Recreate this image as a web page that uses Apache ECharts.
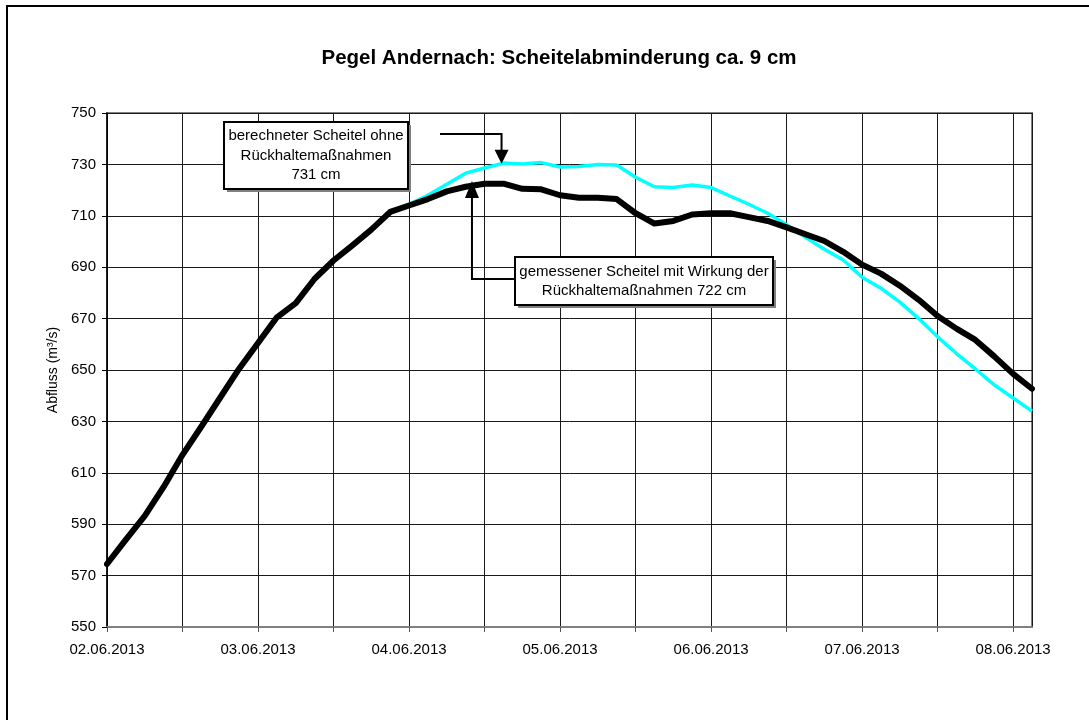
<!DOCTYPE html>
<html>
<head>
<meta charset="utf-8">
<script src="https://cdn.jsdelivr.net/npm/echarts@6/dist/echarts.min.js"></script>
<style>
html,body{margin:0;padding:0;background:#fff;}
#c{width:1089px;height:720px;}
</style>
</head>
<body>
<div id="c"></div>
<script>
// hours since 02.06.2013 00:00
const hours = [0,3,6,9,12,15,18,21,24,27,30,33,36,39,42,45,48,51,54,57,60,63,66,69,72,75,78,81,84,87,90,93,96,99,102,105,108,111,114,117,120,123,126,129,132,135,138,141,144,147];
// gemessen (mit Rückhaltemaßnahmen)
const measured = [574.5,584,593.2,604.5,617,628,639.3,650.5,660.5,670.5,676,685.5,692.6,698.5,704.6,711.5,714,716.5,719.5,721.3,722.5,722.5,720.5,720.3,718,717,717,716.5,711,707,708,710.5,711,711,709.5,708,705.5,702.8,700.2,696,691,687.5,682.8,677.3,671,666.1,661.7,655.3,648.5,642.7];
// berechnet (ohne Rückhaltemaßnahmen)
const calculated = [574.5,584,593.2,604.5,617,628,639.3,650.5,660.5,670.5,676,685.5,692.6,698.5,704.6,711.5,714.5,718,722.3,726.6,728.6,730.5,730.2,730.7,729,729.2,730,729.8,725,721.3,721,722,721,717.7,714.5,711,706.5,701.6,697,692.8,686.1,681.8,676.4,670,662.9,656.4,650.4,644.2,639.1,634];
const dayLabels = ['02.06.2013','03.06.2013','04.06.2013','05.06.2013','06.06.2013','07.06.2013','08.06.2013'];
const titleText = 'Pegel Andernach: Scheitelabminderung ca. 9 cm';
const yName = 'Abfluss (m³/s)';
const note1 = 'berechneter Scheitel ohne\nRückhaltemaßnahmen\n731 cm';
const note2 = 'gemessener Scheitel mit Wirkung der\nRückhaltemaßnahmen 722 cm';
const peakCalc = [62.7, 730.3];
const peakMeas = [58, 723.5];

const FONT = 'Liberation Sans, Arial, sans-serif';
const chart = echarts.init(document.getElementById('c'), null, {renderer:'canvas'});

chart.setOption({
  animation:false,
  backgroundColor:'#fff',
  title:{
    text:titleText, left:554, top:43, textAlign:'center',
    textStyle:{fontFamily:FONT, fontSize:20.5, fontWeight:'bold', color:'#000'}
  },
  grid:{left:107, top:113, width:925, height:514, show:true, borderColor:'#808080', borderWidth:2, backgroundColor:'transparent'},
  xAxis:{
    type:'value', min:0, max:147, interval:12,
    axisLine:{onZero:false, lineStyle:{color:'#808080', width:2}},
    axisTick:{show:true, length:5, lineStyle:{color:'#555'}},
    splitLine:{show:true, lineStyle:{color:'#1a1a1a', width:1}},
    axisLabel:{
      color:'#000', fontFamily:FONT, fontSize:15, margin:15, showMaxLabel:false,
      formatter:function(v){ return (v % 24 === 0) ? (dayLabels[v/24] || '') : ''; }
    }
  },
  yAxis:{
    type:'value', min:550, max:750, interval:20,
    name:yName, nameLocation:'middle', nameGap:36, nameRotate:90,
    nameTextStyle:{color:'#000', fontFamily:FONT, fontSize:14},
    axisLine:{show:true, lineStyle:{color:'#000', width:1.5}},
    axisTick:{show:true, length:5, lineStyle:{color:'#000'}},
    splitLine:{show:true, lineStyle:{color:'#1a1a1a', width:1}},
    axisLabel:{color:'#000', fontFamily:FONT, fontSize:15, margin:11}
  },
  series:[
    {type:'line', name:'berechnet', data:hours.map((h,i)=>[h,calculated[i]]), showSymbol:false, smooth:false,
     lineStyle:{color:'#00FFFF', width:3.5}, z:3},
    {type:'line', name:'gemessen', data:hours.map((h,i)=>[h,measured[i]]), showSymbol:false, smooth:false,
     lineStyle:{color:'#000', width:6, join:'round', cap:'round'}, z:4}
  ]
});

const p1 = chart.convertToPixel({gridIndex:0}, peakCalc);
const p2 = chart.convertToPixel({gridIndex:0}, peakMeas);
const lineStyle = {stroke:'#000', lineWidth:2, fill:null};
function box(x,y,w,h,text,lh){
  return [
    {type:'rect', shape:{x:x+3,y:y+3,width:w,height:h}, style:{fill:'#808080'}, z:50},
    {type:'rect', shape:{x:x,y:y,width:w,height:h}, style:{fill:'#fff', stroke:'#000', lineWidth:2}, z:51},
    {type:'text', x:x+w/2, y:y+h/2, style:{text:text, fill:'#000', font:'15px '+FONT, align:'center', verticalAlign:'middle', lineHeight:lh}, z:52}
  ];
}
chart.setOption({
  graphic:[
    {type:'rect', shape:{x:7,y:6,width:1100,height:730}, style:{fill:null, stroke:'#000', lineWidth:2}, z:1, silent:true},
    ...box(224,122,184,67,note1,19.5),
    ...box(515,257,258,48,note2,19),
    {type:'polyline', shape:{points:[[440,134],[p1[0],134],[p1[0],p1[1]-12]]}, style:lineStyle, z:60},
    {type:'polygon', shape:{points:[[p1[0]-7,p1[1]-14],[p1[0]+7,p1[1]-14],[p1[0],p1[1]]]}, style:{fill:'#000'}, z:60},
    {type:'polyline', shape:{points:[[515,279],[p2[0],279],[p2[0],p2[1]+14]]}, style:lineStyle, z:60},
    {type:'polygon', shape:{points:[[p2[0]-7,p2[1]+17],[p2[0]+7,p2[1]+17],[p2[0],p2[1]]]}, style:{fill:'#000'}, z:60}
  ]
});
</script>
</body>
</html>
